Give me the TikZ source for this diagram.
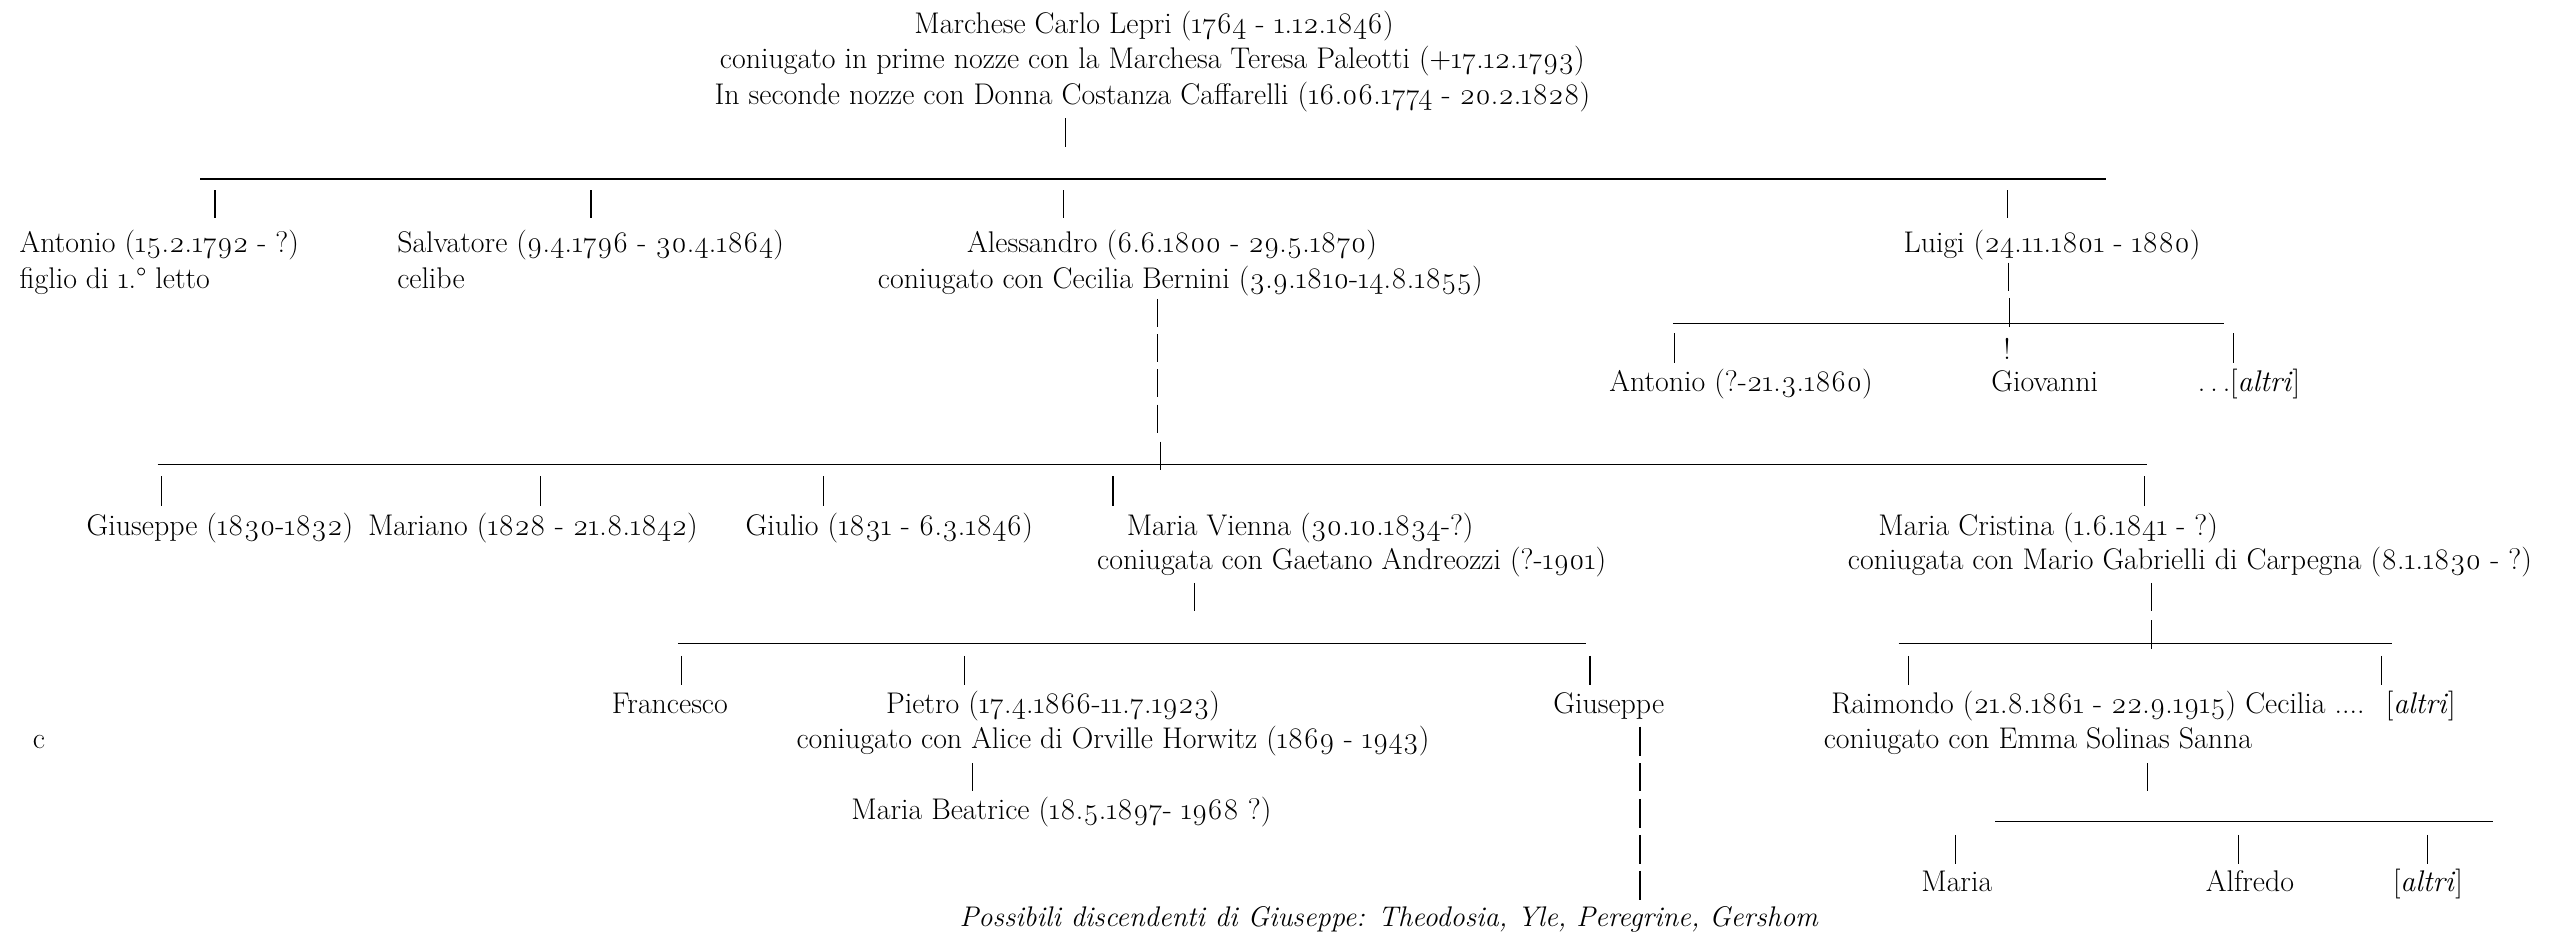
\documentclass[tikz,border=0pt]{standalone}
\usepackage{fontspec}
\setmainfont{Latin Modern Roman}[Numbers=OldStyle]
\begin{document}
\begin{tikzpicture}[x=1pt,y=-1pt,
  lbl/.style={inner sep=0pt, outer sep=0pt, anchor=base, font=\fontsize{18.2}{22}\selectfont},
  lblw/.style={lbl, anchor=base west},
  lbli/.style={lbl, font=\fontsize{17.3}{22}\selectfont\itshape},
  bar/.style={line width=0.7pt},
  rule/.style={line width=0.9pt}]
\useasboundingbox (0,0) rectangle (1568,571);

% ---------- generation 1
\node[lbl] (t1) at (703,20.5) {Marchese Carlo Lepri (1764 - 1.12.1846)};
\node[lbl] (t2) at (702,42) {coniugato in prime nozze con la Marchesa Teresa Paleotti (+17.12.1793)};
\node[lbl] (t3) at (702,63.8) {In seconde nozze con Donna Costanza Caffarelli (16.06.1774 - 20.2.1828)};
\draw[bar] (649,72) -- (649,89.5);
\draw[rule] (122,109) -- (1283,109);
\foreach \x in {131,360,648,1223} \draw[bar] (\x,116) -- (\x,133);

% ---------- generation 2
\node[lblw] (ant1) at (12,154) {Antonio (15.2.1792 - ?)};
\node[lblw] (ant1b) at (12,175.6) {figlio di 1.° letto};
\node[lblw] (salv) at (242,154) {Salvatore (9.4.1796 - 30.4.1864)};
\node[lblw] (salvb) at (242,175.6) {celibe};
\node[lbl] (ales) at (714,154) {Alessandro (6.6.1800 - 29.5.1870)};
\node[lbl] (alesb) at (719,175.6) {coniugato con Cecilia Bernini (3.9.1810-14.8.1855)};
\node[lbl] (luigi) at (1250,154) {Luigi (24.11.1801 - 1880)};

% Luigi's branch
\draw[bar] (1223.5,160) -- (1223.5,177);
\draw[bar] (1224,181.5) -- (1224,199);
\draw[rule] (1019,197) -- (1355,197);
\draw[bar] (1020,203) -- (1020,221);
\node[lbl] (excl) at (1222.7,219) {!};
\draw[bar] (1360.6,203) -- (1360.6,221);
\node[lbl] (ant2) at (1060.6,238.6) {Antonio (?-21.3.1860)};
\node[lbl] (giov) at (1245.6,238.6) {Giovanni};
\node[lbl] (altri1) at (1370,238.6) {.\,.\,.[\textit{altri}]};

% Alessandro's branch
\foreach \a/\b in {182/199,203.5/220.5,225/242,246.5/263.5} \draw[bar] (705,\a) -- (705,\b);
\draw[bar] (707,269) -- (707,286);
\draw[rule] (96,283) -- (1308,283);
\foreach \x in {98.5,329,501.5,678,1306.6} \draw[bar] (\x,290) -- (\x,308);

% ---------- generation 3
\node[lbl] (gius1) at (134,326) {Giuseppe (1830-1832)};
\node[lbl] (mari) at (324.6,326) {Mariano (1828 - 21.8.1842)};
\node[lbl] (giul) at (541.7,326) {Giulio (1831 - 6.3.1846)};
\node[lbl] (vien) at (792,326) {Maria Vienna (30.10.1834-?)};
\node[lbl] (vienb) at (823.4,347) {coniugata con Gaetano Andreozzi (?-1901)};
\node[lbl] (cris) at (1247.7,326) {Maria Cristina (1.6.1841 - ?)};
\node[lbl] (crisb) at (1334,347) {coniugata con Mario Gabrielli di Carpegna (8.1.1830 - ?)};

\draw[bar] (727.4,355) -- (727.4,372);
\draw[rule] (413,392) -- (966,392);
\foreach \x in {415.2,587.4,968.6} \draw[bar] (\x,399.6) -- (\x,417.3);

\draw[bar] (1310.8,355) -- (1310.8,372);
\draw[bar] (1310.8,377.7) -- (1310.8,395.5);
\draw[rule] (1156.5,392) -- (1457,392);
\foreach \x in {1162.6,1450.7} \draw[bar] (\x,399.6) -- (\x,417.3);

% ---------- generation 4
\node[lbl] (fran) at (408,434.5) {Francesco};
\node[lbl] (piet) at (641.5,434.5) {Pietro (17.4.1866-11.7.1923)};
\node[lbl] (pietb) at (678,456) {coniugato con Alice di Orville Horwitz (1869 - 1943)};
\node[lbl] (gius2) at (980,434.5) {Giuseppe};
\node[lbl] (raim) at (1278,434.5) {Raimondo (21.8.1861 - 22.9.1915) Cecilia ....};
\node[lbl] (altri2) at (1474.6,434.5) {[\textit{altri}]};
\node[lblw] (raimb) at (1111,456) {coniugato con Emma Solinas Sanna};
\node[lblw] (c) at (20,456) {c};

\draw[bar] (592.5,465) -- (592.5,482);
\node[lbl] (beat) at (646.6,499.5) {Maria Beatrice (18.5.1897- 1968 ?)};

\foreach \a/\b in {442.6/460.5,465/482,486.7/504.4,508.6/526.3,530.4/548.3} \draw[bar] (999,\a) -- (999,\b);

\draw[bar] (1308.3,465) -- (1308.3,482);
\draw[rule] (1215.5,500.5) -- (1518.4,500.5);
\foreach \x in {1191,1363.7,1478.5} \draw[bar] (\x,508.6) -- (\x,526.3);

% ---------- generation 5
\node[lbl] (maria) at (1192,543) {Maria};
\node[lbl] (alfr) at (1370.6,543) {Alfredo};
\node[lbl] (altri3) at (1479,543) {[\textit{altri}]};

\node[lbli] (poss) at (846,564.5) {Possibili discendenti di Giuseppe: Theodosia, Yle, Peregrine, Gershom};
\end{tikzpicture}
\end{document}
